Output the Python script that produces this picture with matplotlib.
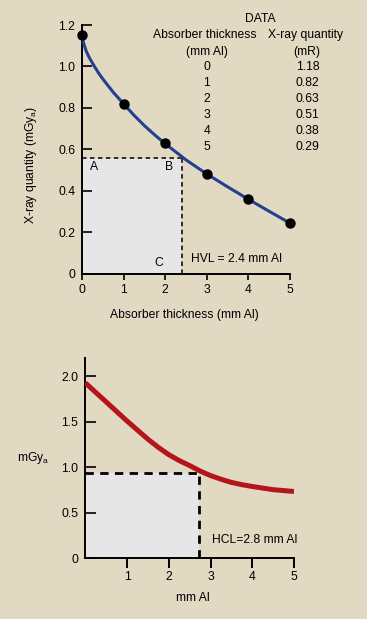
import numpy as np
import matplotlib
matplotlib.use('Agg')
import matplotlib.pyplot as plt
from matplotlib.patches import Rectangle

plt.rcParams['font.family'] = ['Liberation Sans', 'DejaVu Sans']
plt.rcParams['font.size'] = 8.7
plt.rcParams['mathtext.fontset'] = 'custom'
plt.rcParams['mathtext.rm'] = 'Liberation Sans'

bg = '#e2d9c3'
shade = '#e6e6e6'

pt_x = [0, 1, 2, 3, 4, 5]
pt_y = [1.15, 0.82, 0.63, 0.48, 0.36, 0.245]
curve_x = [0, 0.025, 0.05, 0.1, 0.15, 0.2, 0.3, 0.4, 0.5, 0.75, 1, 1.25, 1.5, 1.75, 2,
           2.5, 3, 3.5, 4, 4.5, 5]
curve_y = [1.15, 1.125, 1.105, 1.075, 1.053, 1.034, 1.0, 0.968, 0.94, 0.876, 0.82, 0.765,
           0.715, 0.67, 0.628, 0.55, 0.482, 0.42, 0.36, 0.302, 0.245]
hvl = 2.4
half = 0.56

# data table shown in the corner
tab_thick = ['0', '1', '2', '3', '4', '5']
tab_qty = ['1.18', '0.82', '0.63', '0.51', '0.38', '0.29']

# bottom panel
red_x = [0, 0.5, 1, 1.5, 1.75, 2, 2.25, 2.5, 2.75, 3, 3.25, 3.5, 3.75, 4, 4.5, 5]
red_y = [1.93, 1.72, 1.51, 1.31, 1.22, 1.14, 1.075, 1.02, 0.96, 0.91, 0.87, 0.835,
         0.81, 0.79, 0.755, 0.735]
hcl = 2.73
hcl_y = 0.94

W, H = 367, 619
fig = plt.figure(figsize=(W/100, H/100), dpi=100)
fig.patch.set_facecolor(bg)

def box(l, t, r, b):
    return [l/W, 1 - b/H, (r - l)/W, (b - t)/H]

# ---- top chart
ax = fig.add_axes(box(82, 25, 290, 274))
ax.set_facecolor(bg)
ax.set_xlim(0, 5)
ax.set_ylim(0, 1.2)
for s in ['top', 'right']:
    ax.spines[s].set_visible(False)
for s in ['left', 'bottom']:
    ax.spines[s].set_linewidth(1.4)
ax.add_patch(Rectangle((0, 0), hvl, half, color=shade, zorder=1, lw=0))
ax.plot([0, hvl], [half, half], color='black', lw=1.1, dashes=(3, 2.2), zorder=2)
ax.plot([hvl, hvl], [0, half], color='black', lw=1.1, dashes=(3, 2.2), zorder=2)
ax.plot(curve_x, curve_y, color='#24418f', lw=2.2, zorder=3,
        solid_capstyle='round', solid_joinstyle='round')
ax.plot(pt_x, pt_y, 'o', color='black', ms=6.5, zorder=4, clip_on=False)
ax.set_xticks(range(6))
ax.set_yticks([0, 0.2, 0.4, 0.6, 0.8, 1.0, 1.2])
ax.set_yticklabels(['0', '0.2', '0.4', '0.6', '0.8', '1.0', '1.2'])
ax.tick_params(axis='y', direction='in', length=7, width=1.2, pad=5)
ax.tick_params(axis='x', direction='out', length=4, width=1.2, pad=3)

ax.text(0.29, 0.516, 'A', ha='center', va='center')
ax.text(2.09, 0.516, 'B', ha='center', va='center')
ax.text(1.84, 0.053, 'C', ha='center', va='center')
ax.text(2.62, 0.072, 'HVL = 2.4 mm Al', ha='left', va='center')

ax.text(4.28, 1.229, 'DATA', ha='center', va='center', clip_on=False)
ax.text(2.96, 1.152, 'Absorber thickness', ha='center', va='center', clip_on=False)
ax.text(5.37, 1.152, 'X-ray quantity', ha='center', va='center', clip_on=False)
ax.text(3.0, 1.07, '(mm Al)', ha='center', va='center', clip_on=False)
ax.text(5.41, 1.07, '(mR)', ha='center', va='center', clip_on=False)
for i, (a, b) in enumerate(zip(tab_thick, tab_qty)):
    yy = 0.998 - i*0.0771
    ax.text(3.0, yy, a, ha='center', va='center', clip_on=False)
    ax.text(5.42, yy, b, ha='center', va='center', clip_on=False)

fig.text(184.7/W, 1 - 315/H, 'Absorber thickness (mm Al)', ha='center', va='center')
fig.text(31/W, 1 - 165/H, 'X-ray quantity (mGy$_\\mathregular{a}$)', ha='center', va='center', rotation=90)

# ---- bottom chart
bx = fig.add_axes(box(85.3, 358.3, 294, 558.3))
bx.set_facecolor(bg)
bx.set_xlim(0, 5)
bx.set_ylim(0, 2.2)
for s in ['top', 'right']:
    bx.spines[s].set_visible(False)
for s in ['left', 'bottom']:
    bx.spines[s].set_linewidth(1.4)
bx.add_patch(Rectangle((0, 0), hcl, hcl_y, color=shade, zorder=1, lw=0))
bx.plot([0, hcl], [hcl_y, hcl_y], color='black', lw=2.0, dashes=(3, 2.3), zorder=2)
bx.plot([hcl, hcl], [0, hcl_y], color='black', lw=2.0, dashes=(3, 2.3), zorder=2)
bx.plot(red_x, red_y, color='#b3151b', lw=3.6, zorder=3,
        solid_capstyle='butt', solid_joinstyle='round')
bx.set_xticks([1, 2, 3, 4, 5])
bx.set_yticks([0, 0.5, 1.0, 1.5, 2.0])
bx.set_yticklabels(['0', '0.5', '1.0', '1.5', '2.0'])
bx.tick_params(axis='y', direction='in', length=8, width=1.2, pad=5)
bx.tick_params(axis='x', direction='out', length=7, width=1.4, pad=2)
bx.text(3.04, 0.20, 'HCL=2.8 mm Al', ha='left', va='center')

fig.text(33/W, 1 - 458/H, 'mGy$_\\mathregular{a}$', ha='center', va='center')
fig.text(193/W, 1 - 598/H, 'mm Al', ha='center', va='center')

fig.savefig('out.png', dpi=100, facecolor=bg)
